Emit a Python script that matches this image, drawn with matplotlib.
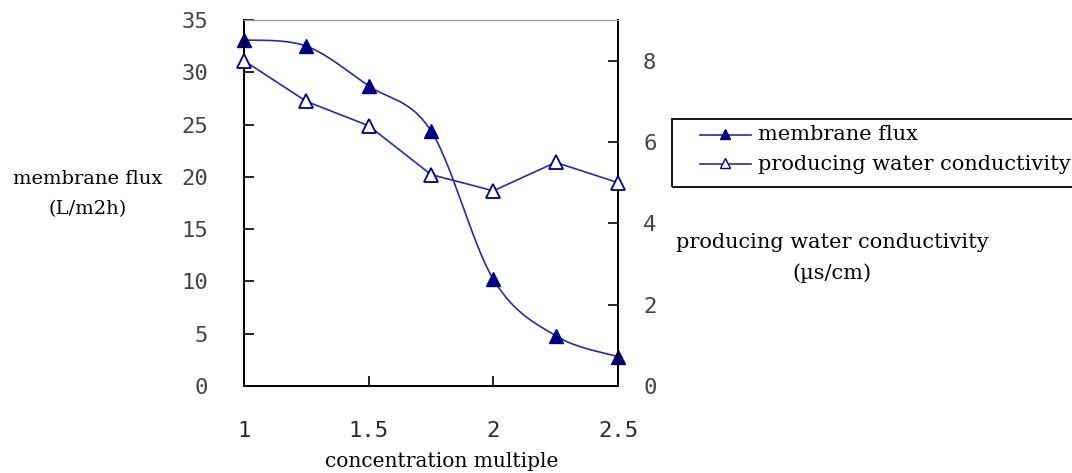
import numpy as np
import matplotlib.pyplot as plt
from matplotlib.patches import Rectangle
from matplotlib.lines import Line2D

# data
conc = [1.0, 1.25, 1.5, 1.75, 2.0, 2.25, 2.5]
flux = [33.1, 32.5, 28.7, 24.4, 10.2, 4.8, 2.8]
conductivity = [8.0, 7.0, 6.4, 5.2, 4.8, 5.5, 5.0]

x_ticks = [1, 1.5, 2, 2.5]
x_ticklabels = ["1", "1.5", "2", "2.5"]
left_ticks = [0, 5, 10, 15, 20, 25, 30, 35]
right_ticks = [0, 2, 4, 6, 8]
series_names = ["membrane flux", "producing water conductivity"]

LINE = '#2a2aa8'
MARK = '#000080'
SERIF = 'DejaVu Serif'
MONO = 'DejaVu Sans Mono'


def smooth_curve(xs, ys, n=30):
    # Catmull-Rom style smoothing through the points (like Excel's smoothed line)
    xs = np.asarray(xs, float)
    ys = np.asarray(ys, float)
    px = np.concatenate([[xs[0]], xs, [xs[-1]]])
    py = np.concatenate([[ys[0]], ys, [ys[-1]]])
    out_x, out_y = [], []
    t = np.linspace(0, 1, n)
    for i in range(1, len(px) - 2):
        p0, p1, p2, p3 = [np.array([px[j], py[j]]) for j in (i - 1, i, i + 1, i + 2)]
        c1 = p1 + (p2 - p0) / 6
        c2 = p2 - (p3 - p1) / 6
        for tt in t:
            b = ((1 - tt) ** 3) * p1 + 3 * ((1 - tt) ** 2) * tt * c1 + 3 * (1 - tt) * tt ** 2 * c2 + tt ** 3 * p2
            out_x.append(b[0])
            out_y.append(b[1])
    return out_x, out_y


fig = plt.figure(figsize=(10.72, 4.73), dpi=100)
ax = fig.add_axes([0.2276, 0.1839, 0.3489, 0.7738])
ax2 = ax.twinx()

sx, sy = smooth_curve(conc, flux)
ax.plot(sx, sy, color=LINE, linewidth=1.2, zorder=3, clip_on=False)
ax.plot(conc, flux, linestyle='none', marker='^', markersize=9.5,
        markerfacecolor=MARK, markeredgecolor=MARK, zorder=4, clip_on=False)

ax2.plot(conc, conductivity, color=LINE, linewidth=1.2, marker='^', markersize=9.5,
         markerfacecolor='white', markeredgecolor=MARK, markeredgewidth=1.3,
         zorder=4, clip_on=False)

ax.set_xlim(1, 2.5)
ax.set_ylim(0, 35)
ax2.set_ylim(0, 9)

ax.set_xticks(x_ticks)
ax.set_xticklabels(x_ticklabels, fontsize=16, family=MONO, color='#2a2a2a')
ax.set_yticks(left_ticks)
ax.set_yticklabels([str(v) for v in left_ticks], fontsize=16, family=MONO, color='#444444')
ax2.set_yticks(right_ticks)
ax2.set_yticklabels([str(v) for v in right_ticks], fontsize=16, family=MONO, color='#444444')

ax.tick_params(axis='x', direction='in', length=7, width=1.2, pad=25)
ax.tick_params(axis='y', direction='in', length=7, width=1.2, pad=26)
ax2.tick_params(axis='y', direction='in', length=7, width=1.2, pad=18)

for a in (ax, ax2):
    a.spines['top'].set_color('#999999')
    a.spines['left'].set_linewidth(1.4)
    a.spines['right'].set_linewidth(1.4)
    a.spines['bottom'].set_linewidth(1.4)

fig.text(88 / 1072, 1 - 179 / 473, "membrane flux", ha='center', va='center',
         family=SERIF, fontsize=14)
fig.text(88 / 1072, 1 - 209 / 473, "(L/m2h)", ha='center', va='center',
         family=SERIF, fontsize=14)
fig.text(676 / 1072, 1 - 242 / 473, "producing water conductivity", ha='left', va='center',
         family=SERIF, fontsize=15)
fig.text(832 / 1072, 1 - 273 / 473, "(\u00b5s/cm)", ha='center', va='center',
         family=SERIF, fontsize=15)
fig.text(442 / 1072, 1 - 461 / 473, "concentration multiple", ha='center', va='center',
         family=SERIF, fontsize=14.5)

# legend box drawn by hand, it runs past the right edge like the original
W, H = 1072.0, 473.0
fig.patches.append(Rectangle((672 / W, 1 - 187 / H), 420 / W, 68 / H, transform=fig.transFigure,
                             fill=False, edgecolor='black', linewidth=1.3))
rows_y = [135, 164]
faces = [MARK, 'white']
for name, ry, fc in zip(series_names, rows_y, faces):
    fig.add_artist(Line2D([700 / W, 751 / W], [1 - ry / H, 1 - ry / H], transform=fig.transFigure,
                          color=LINE, linewidth=1.2))
    fig.add_artist(Line2D([725 / W], [1 - (ry - 1) / H], transform=fig.transFigure, marker='^',
                          markersize=7, markerfacecolor=fc, markeredgecolor=MARK, linestyle='none'))
    fig.text(758 / W, 1 - ry / H, name, ha='left', va='center', family=SERIF, fontsize=15)

fig.savefig("out.png", dpi=100)
